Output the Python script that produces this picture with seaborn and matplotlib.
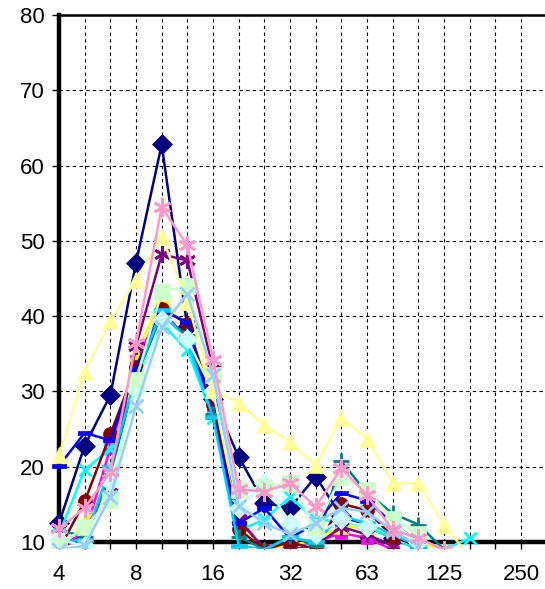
import numpy as np
import pandas as pd
import matplotlib
matplotlib.use("Agg")
import matplotlib.pyplot as plt
from matplotlib.patches import Rectangle
from matplotlib.ticker import FixedLocator, NullFormatter
import seaborn as sns

# grain size classes (1/3 phi steps), tick labels
sizes = [4, 5.04, 6.35, 8, 10.08, 12.7, 16, 20.16, 25.4, 32, 40.3, 50.8,
         64, 80.6, 101.6, 128, 161.3]
grid_sizes = sizes + [203.2, 256, 322.5]
major_ticks = [4, 8, 16, 32, 64, 128, 256]
major_labels = ["4", "8", "16", "32", "63", "125", "250"]

# series values (values < 10 run below the axis)
navy = [12.5, 22.8, 29.5, 47.1, 62.8, 38.5, 29.0, 21.3, 15.2, 14.5, 18.7, 13.4, 12.0, 10.5, 9.0]
magenta = [10.0, 10.9, 22.5, 34.0, 41.0, 36.8, 28.0, 13.2, 9.0, 9.5, 10.0, 11.2, 10.5, 9.0]
yellow = [9.0, 12.5, 17.0, 35.0, 42.5, 38.0, 30.0, 12.7, 9.0, 9.5, 10.3, 12.0, 12.0, 10.5, 10.0, 9.0]
cyan = [11.0, 19.6, 22.4, 31.0, 39.0, 35.5, 26.5, 11.5, 13.0, 16.0, 12.9, 12.8, 12.0, 10.5, 9.0, 9.0, 10.5]
purple = [9.0, 11.0, 17.5, 36.0, 48.2, 47.4, 33.0, 13.0, 9.0, 9.0, 9.5, 12.0, 11.0, 9.5]
maroon = [9.0, 15.4, 24.3, 33.3, 41.0, 39.0, 28.2, 11.7, 9.0, 10.0, 9.0, 15.1, 14.2, 10.7, 9.5]
teal = [11.5, 10.8, 19.0, 32.0, 40.0, 37.5, 27.0, 10.7, 9.0, 10.8, 9.5, 20.7, 16.5, 13.8, 12.3, 9.0]
blue = [20.1, 24.5, 23.5, 33.0, 40.8, 39.2, 26.6, 12.5, 14.5, 10.5, 12.5, 16.5, 15.5, 12.5, 10.0]
skyblue = [10.0, 10.3, 20.0, 32.0, 40.8, 36.5, 26.6, 9.5, 9.0, 10.6, 10.0, 13.5, 12.5, 11.0, 9.5]
lightcyan = [10.3, 9.5, 18.0, 30.2, 39.5, 36.9, 30.0, 14.5, 17.8, 12.5, 11.0, 13.0, 12.0, 12.5, 10.0]
lightgreen = [9.5, 12.0, 15.6, 31.5, 43.2, 44.0, 32.2, 16.9, 17.3, 17.8, 12.0, 18.7, 16.9, 13.0, 11.0]
lightyellow = [21.5, 32.6, 39.4, 44.8, 50.6, 41.9, 30.2, 28.5, 25.5, 23.3, 20.2, 26.5, 23.7, 17.8, 17.8, 12.3, 8.0]
paleblue = [9.0, 9.5, 16.0, 28.0, 38.5, 43.0, 32.2, 14.8, 12.5, 11.0, 12.5, 14.5, 14.0, 11.5, 9.5]
rose = [11.8, 14.5, 19.3, 36.4, 54.5, 49.4, 34.2, 17.0, 16.7, 17.8, 14.7, 19.8, 16.2, 11.6, 10.5, 9.0]

# Excel style dash markers
short_dash = [(-1, -0.3), (1, -0.3), (1, 0.3), (-1, 0.3), (-1, -0.3)]
long_dash = [(-1, -0.25), (1, -0.25), (1, 0.25), (-1, 0.25), (-1, -0.25)]
asterisk = (6, 2, 0)

series = [
    (navy, "#000080", "D", 10),
    (magenta, "#FF00FF", "s", 9),
    (yellow, "#FFFF00", "^", 10),
    (cyan, "#00FFFF", "x", 9),
    (purple, "#800080", asterisk, 12),
    (maroon, "#800000", "o", 10),
    (teal, "#008080", "+", 11),
    (blue, "#0000FF", short_dash, 10),
    (skyblue, "#00CCFF", long_dash, 12),
    (lightcyan, "#CCFFFF", "D", 10),
    (lightgreen, "#CCFFCC", "s", 11),
    (lightyellow, "#FFFF99", "^", 12),
    (paleblue, "#99CCFF", "x", 10),
    (rose, "#FF99CC", asterisk, 13),
]

plt.rcParams['font.family'] = ['Liberation Sans', 'DejaVu Sans']

fig = plt.figure(figsize=(5.45, 5.89), dpi=100)
ax = fig.add_axes([59 / 545, 1 - 542 / 589, 1 - 59 / 545, (542 - 15) / 589])

# Excel lets markers spill a little past the plot area
clip = Rectangle((-0.03, -0.012), 1.06, 1.03, transform=ax.transAxes)
for vals, color, marker, ms in series:
    line_art = marker in ("x", "+") or marker == asterisk
    n_before = len(ax.lines)
    sns.lineplot(x=sizes[:len(vals)], y=vals, ax=ax, color=color,
                 marker=marker, markersize=ms, linewidth=1.8,
                 markeredgecolor=color, markerfacecolor=color,
                 markeredgewidth=2.0 if line_art else 0.5,
                 sort=False, legend=False, zorder=3)
    for ln in ax.lines[n_before:]:
        ln.set_clip_path(clip)

ax.set_xscale('log', base=2)
ax.set_xlim(4, 317.5)
ax.set_ylim(10, 80)
ax.set_yticks(range(10, 81, 10))
ax.xaxis.set_major_locator(FixedLocator(major_ticks))
ax.set_xticklabels(major_labels)
ax.xaxis.set_minor_locator(FixedLocator(grid_sizes))
ax.xaxis.set_minor_formatter(NullFormatter())

ax.grid(True, which='both', axis='x', color='black', linestyle=(0, (3, 3)), linewidth=0.8)
ax.grid(True, which='major', axis='y', color='black', linestyle=(0, (3, 3)), linewidth=0.8)
ax.set_axisbelow(True)

ax.tick_params(axis='y', which='major', direction='out', length=5, width=1,
               pad=5, labelsize=16, colors='black')
ax.tick_params(axis='x', which='both', direction='out', length=5, width=1,
               pad=11, labelsize=16, colors='black')

for side in ['left', 'bottom']:
    ax.spines[side].set_linewidth(3.2)
ax.spines['top'].set_linewidth(1.8)
ax.spines['right'].set_visible(False)
ax.set_xlabel('')
ax.set_ylabel('')

fig.savefig("out.png", dpi=100)
